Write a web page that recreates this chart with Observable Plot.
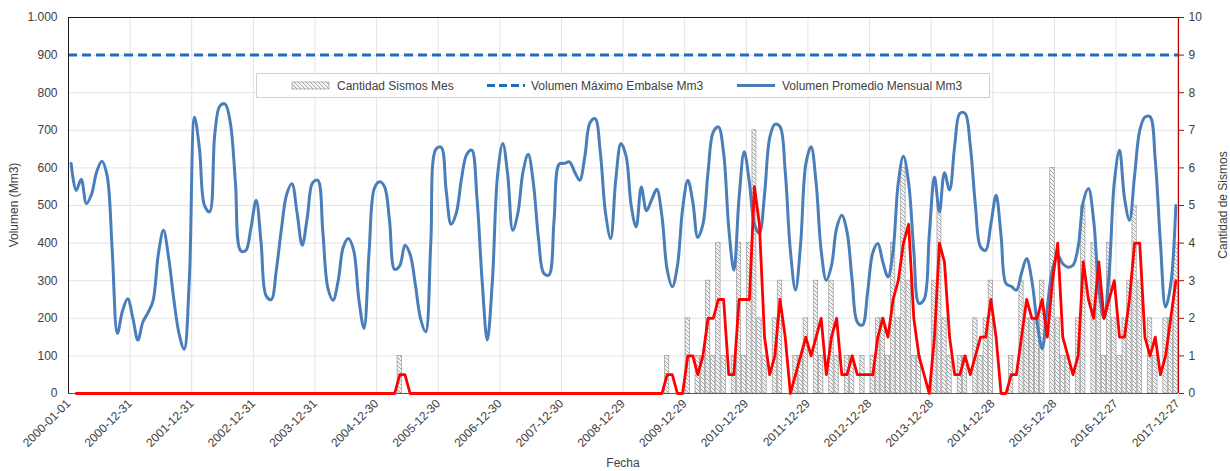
<!DOCTYPE html>
<html>
<head>
<meta charset="utf-8">
<script src="https://cdn.jsdelivr.net/npm/d3@7"></script>
<script src="https://cdn.jsdelivr.net/npm/@observablehq/plot@0.6"></script>
<style>
  html, body { margin: 0; padding: 0; background: #fff; }
  svg { display: block; }
</style>
</head>
<body>
<div id="chart"></div>
<script>
// ---- Data (monthly, Jan 2000 – Dec 2017) ----
const firstMonth = "2000-01-01";
const monthCount = 216;

// Volumen Promedio Mensual (Mm3), one row per year
const volumen = [
  612, 540, 570, 505, 530, 590, 618, 580, 380, 160, 220, 252,
  200, 142, 190, 215, 248, 370, 434, 360, 250, 160, 118, 300,
  735, 650, 500, 483, 690, 765, 770, 720, 560, 380, 380, 440,
  514, 400, 260, 250, 330, 440, 530, 558, 480, 394, 470, 560,
  567, 430, 280, 248, 300, 390, 412, 380, 250, 173, 380, 545,
  563, 550, 460, 330, 340, 394, 370, 290, 200, 164, 400, 650,
  655, 540, 450, 480, 570, 635, 647, 520, 300, 142, 300, 580,
  665, 580, 434, 480, 590, 636, 560, 410, 320, 315, 460, 610,
  612, 616, 590, 567, 630, 720, 731, 640, 480, 412, 570, 665,
  630, 500, 443, 549, 486, 515, 543, 470, 330, 284, 340, 490,
  567, 510, 415, 450, 590, 695, 709, 640, 440, 328, 520, 643,
  560, 450, 426, 530, 680, 716, 710, 590, 380, 275, 400, 610,
  656, 560, 380, 301, 340, 440, 474, 430, 300, 190, 182, 270,
  375, 399, 350, 310, 380, 560, 631, 560, 380, 240, 250, 420,
  576, 483, 587, 541, 660, 745, 745, 660, 500, 390, 381, 450,
  527, 420, 292, 285, 275, 320, 359, 300, 190, 120, 230, 330,
  368, 345, 336, 341, 390, 510, 545, 460, 280, 200, 320, 560,
  647, 520, 461, 580, 700, 735, 736, 620, 400, 230, 290, 500
];

// Cantidad Sismos Mes, one row per year
const sismos = [
  0,0,0,0,0,0,0,0,0,0,0,0,
  0,0,0,0,0,0,0,0,0,0,0,0,
  0,0,0,0,0,0,0,0,0,0,0,0,
  0,0,0,0,0,0,0,0,0,0,0,0,
  0,0,0,0,0,0,0,0,0,0,0,0,
  0,0,0,0,1,0,0,0,0,0,0,0,
  0,0,0,0,0,0,0,0,0,0,0,0,
  0,0,0,0,0,0,0,0,0,0,0,0,
  0,0,0,0,0,0,0,0,0,0,0,0,
  0,0,0,0,0,0,0,0,1,0,0,0,
  2,0,1,1,3,1,4,1,0,1,4,1,
  4,7,2,1,0,2,3,0,0,1,1,2,
  0,3,1,0,3,1,0,1,1,0,1,0,
  1,2,2,1,4,2,6,3,1,1,0,0,
  3,5,2,1,0,1,1,0,2,1,2,3,
  0,0,0,1,0,3,2,2,2,3,0,6,
  2,1,1,0,2,5,0,4,3,1,4,2,
  1,2,3,5,3,0,2,1,0,2,2,4
];

const volumenMaximo = 900;

const xTickLabels = ["2000-01-01","2000-12-31","2001-12-31","2002-12-31","2003-12-31",
  "2004-12-30","2005-12-30","2006-12-30","2007-12-30","2008-12-29","2009-12-29",
  "2010-12-29","2011-12-29","2012-12-28","2013-12-28","2014-12-28","2015-12-28",
  "2016-12-27","2017-12-27"];
const yTicksLeft = [0,100,200,300,400,500,600,700,800,900,1000];
const yTicksRight = [0,1,2,3,4,5,6,7,8,9,10];

const legendLabels = ["Cantidad Sismos Mes", "Volumen Máximo Embalse Mm3", "Volumen Promedio Mensual Mm3"];

// ---- Build table ----
const start = new Date(firstMonth + "T00:00:00Z");
const months = d3.range(monthCount).map(i => d3.utcMonth.offset(start, i));
const data = months.map((m, i) => {
  const e = d3.utcMonth.offset(m, 1);
  return {start: m, end: e, mid: new Date((+m + +e) / 2), vol: volumen[i], sis: sismos[i]};
});
const xTicks = xTickLabels.map(s => new Date(s + "T00:00:00Z"));
const xDomain = [start, d3.utcMonth.offset(start, monthCount)];
const ratio = 100; // 1 sismo = 100 Mm3 on the shared vertical scale

const es = d3.formatLocale({decimal: ",", thousands: ".", grouping: [3], currency: ["", ""]});
const fmtLeft = es.format(",");

const blue = "#4a7ebb";
const dashBlue = "#1f6cbd";
const red = "#ff0000";
const axisRed = "#c00000";
const textCol = "#404040";

const chart = Plot.plot({
  width: 1230,
  height: 471,
  marginLeft: 68,
  marginRight: 52,
  marginTop: 17,
  marginBottom: 78,
  style: {fontFamily: "'Liberation Sans', Arial, sans-serif", fontSize: "12px", color: textCol, background: "#fff", overflow: "visible"},
  x: {type: "utc", domain: xDomain},
  y: {domain: [0, 1000]},
  marks: [
    Plot.gridY(yTicksLeft, {stroke: "#e3e3e3", strokeOpacity: 1}),
    Plot.gridX(xTicks, {stroke: "#e3e3e3", strokeOpacity: 1}),
    Plot.rectY(data.filter(d => d.sis > 0), {
      x1: "start", x2: "end", y1: 0, y2: d => d.sis * ratio,
      fill: "url(#hatch)", stroke: "#9a9a9a", strokeWidth: 0.7, insetLeft: 0.4, insetRight: 0.4
    }),
    Plot.ruleY([volumenMaximo], {stroke: dashBlue, strokeWidth: 3, strokeDasharray: "9,5"}),
    Plot.lineY(data, {x: "mid", y: "vol", stroke: blue, strokeWidth: 3, curve: "catmull-rom"}),
    Plot.lineY(data, Plot.windowY({k: 2, anchor: "end", strict: true}, {
      x: "mid", y: d => d.sis * ratio, stroke: red, strokeWidth: 2.8, strokeLinejoin: "round"
    })),
    // axis lines
    Plot.ruleY([0], {stroke: "#595959", strokeWidth: 1}),
    Plot.ruleY([1000], {stroke: "#1a1a1a", strokeWidth: 1}),
    Plot.ruleX([xDomain[0]], {stroke: "#1a1a1a", strokeWidth: 1}),
    Plot.ruleX([xDomain[1]], {stroke: axisRed, strokeWidth: 1.2}),
    Plot.axisY(yTicksLeft, {anchor: "left", tickSize: 0, tickPadding: 11, tickFormat: fmtLeft, label: null, fill: textCol}),
    Plot.axisY(yTicksRight.map(v => v * ratio), {anchor: "right", tickSize: 5, tickPadding: 5, stroke: axisRed, fill: textCol, tickFormat: v => v / ratio, label: null}),
    Plot.axisX(xTicks, {tickSize: 0, tickPadding: 8, tickRotate: -45, tickFormat: d3.utcFormat("%Y-%m-%d"), label: null, fill: textCol})
  ]
});

document.getElementById("chart").appendChild(chart);

// ---- Hatch pattern, axis titles and legend ----
const svg = d3.select(chart);
const defs = svg.insert("defs", ":first-child");
const pat = defs.append("pattern")
  .attr("id", "hatch").attr("patternUnits", "userSpaceOnUse")
  .attr("width", 4).attr("height", 4);
pat.append("rect").attr("width", 4).attr("height", 4).attr("fill", "#f4f5f7");
pat.append("path").attr("d", "M-1,3 l2,2 M0,0 l4,4 M3,-1 l2,2")
  .attr("stroke", "#8f8f8f").attr("stroke-width", 0.8);

const font = "'Liberation Sans', Arial, sans-serif";
function addText(g, x, y, str, anchor, transform) {
  const t = g.append("text")
    .attr("text-anchor", anchor).attr("font-family", font).attr("font-size", 12).attr("fill", textCol)
    .text(str);
  if (transform) t.attr("transform", transform); else t.attr("x", x).attr("y", y);
  return t;
}
addText(svg, 0, 0, "Volumen (Mm3)", "middle", "translate(18,205) rotate(-90)");
addText(svg, 0, 0, "Cantidad de Sismos", "middle", "translate(1227,205) rotate(-90)");
addText(svg, 623, 467, "Fecha", "middle");

const lg = svg.append("g");
lg.append("rect").attr("x", 256.5).attr("y", 73.5).attr("width", 733).attr("height", 24)
  .attr("fill", "#fff").attr("stroke", "#d0d0d0");
lg.append("rect").attr("x", 292).attr("y", 82).attr("width", 37).attr("height", 7)
  .attr("fill", "url(#hatch)").attr("stroke", "#9a9a9a").attr("stroke-width", 0.7);
addText(lg, 337, 89.5, legendLabels[0], "start");
lg.append("line").attr("x1", 487).attr("x2", 525).attr("y1", 85.5).attr("y2", 85.5)
  .attr("stroke", dashBlue).attr("stroke-width", 3).attr("stroke-dasharray", "8,4");
addText(lg, 531, 89.5, legendLabels[1], "start");
lg.append("line").attr("x1", 737).attr("x2", 775).attr("y1", 85.5).attr("y2", 85.5)
  .attr("stroke", blue).attr("stroke-width", 3);
addText(lg, 782, 89.5, legendLabels[2], "start");
</script>
</body>
</html>
